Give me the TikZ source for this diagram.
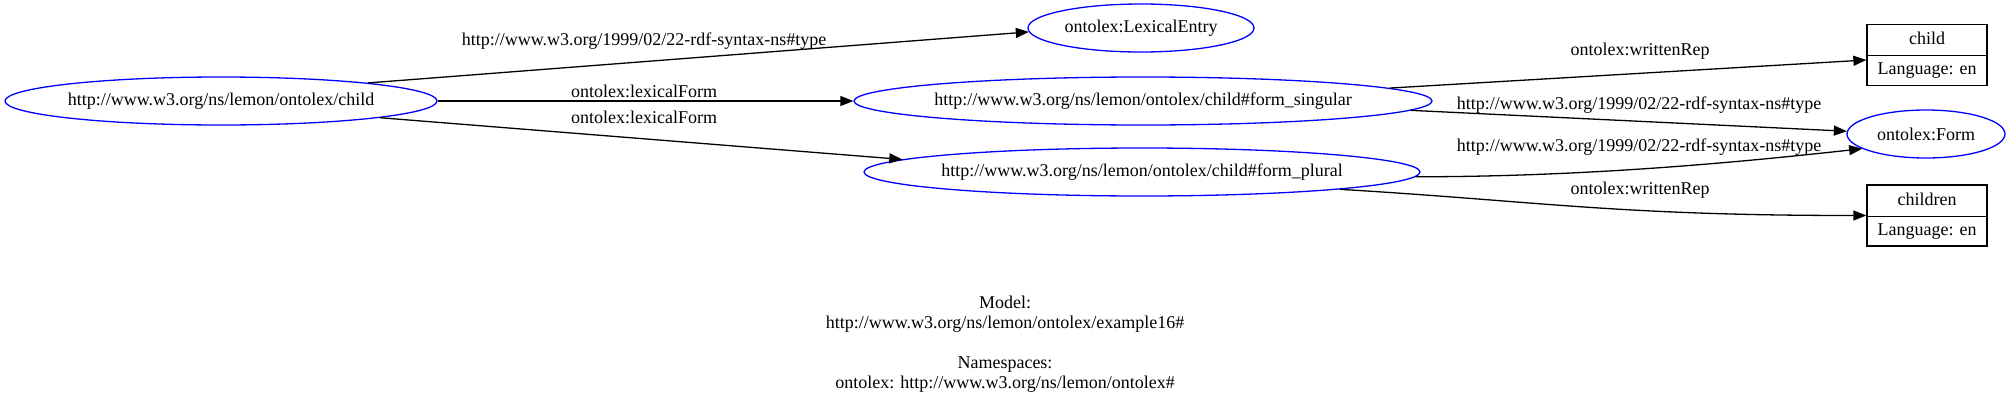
\documentclass[tikz,border=0pt]{standalone}
\usepackage{fontspec}
\setmainfont{Liberation Serif}
\usetikzlibrary{shapes.geometric,shapes.multipart,arrows.meta,calc}
\newcommand{\recpart}[1]{\makebox[100pt][c]{#1}}
\begin{document}
\begin{tikzpicture}[x=1pt,y=-1pt,
  every node/.style={font=\fontsize{18}{20}\selectfont},
  res/.style={ellipse, draw={rgb,255:red,0;green,0;blue,255}, line width=1.3pt, inner sep=0pt, minimum height=48pt},
  rec/.style={rectangle split, rectangle split parts=2, draw=black, line width=1.3pt,
    inner xsep=10pt, inner ysep=6.5pt, text height=13pt, text depth=4pt},
  link/.style={-{Triangle[length=13pt,width=10pt]}, line width=1.3pt},
  lbl/.style={inner sep=1pt}
]
\useasboundingbox (0,0) rectangle (2011,407);

\node[res, minimum width=432pt] (child) at (221,101) {\makebox[0pt]{http://www.w3.org/ns/lemon/ontolex/child}};
\node[res, minimum width=226pt] (lex) at (1141,28) {\makebox[0pt]{ontolex:LexicalEntry}};
\node[res, minimum width=578pt] (sing) at (1143,101) {\makebox[0pt]{http://www.w3.org/ns/lemon/ontolex/child\#form\_singular}};
\node[res, minimum width=556pt] (pl) at (1142,172) {\makebox[0pt]{http://www.w3.org/ns/lemon/ontolex/child\#form\_plural}};
\node[res, minimum width=158pt] (form) at (1926,134) {\makebox[0pt]{ontolex:Form}};

\node[rec] (cb) at (1927,55) {\recpart{child}\nodepart{two}\recpart{Language: en}};
\node[rec] (ch) at (1927,215.5) {\recpart{children}\nodepart{two}\recpart{Language: en}};

\draw[link] (child.7) -- (lex.182);
\draw[link] (child.east) -- (sing.west);
\draw[link] (child.-6) -- (pl.177);
\draw[link] (sing.3.4) -- ([yshift=-5pt]cb.west);
\draw[link] (sing.-2.5) -- (form.178);
\draw[link] (pl.-1) .. controls +(180,0) and +(-110,12) .. (form.-167.7);
\draw[link] (pl.-5.9) .. controls +(200,12) and +(-250,0) .. (ch.west);

\node[lbl] (l1) at (644,41) {http://www.w3.org/1999/02/22-rdf-syntax-ns\#type};
\node[lbl] (l2) at (644,91) {ontolex:lexicalForm};
\node[lbl] (l3) at (644,117) {ontolex:lexicalForm};
\node[lbl] (l4) at (1640,51) {ontolex:writtenRep};
\node[lbl] (l5) at (1639,105) {http://www.w3.org/1999/02/22-rdf-syntax-ns\#type};
\node[lbl] (l6) at (1639,147) {http://www.w3.org/1999/02/22-rdf-syntax-ns\#type};
\node[lbl] (l7) at (1640,190) {ontolex:writtenRep};

\node[align=center] (cap) at (1005,344) {Model:\\http://www.w3.org/ns/lemon/ontolex/example16\#\\[20pt]Namespaces:\\ontolex: http://www.w3.org/ns/lemon/ontolex\#};
\end{tikzpicture}
\end{document}
